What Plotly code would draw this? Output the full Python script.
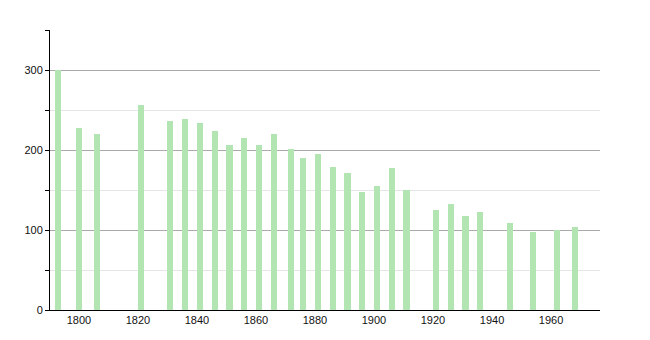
import plotly.graph_objects as go

years = [1793, 1800, 1806, 1821, 1831, 1836, 1841, 1846, 1851, 1856, 1861, 1866,
         1872, 1876, 1881, 1886, 1891, 1896, 1901, 1906, 1911, 1921, 1926, 1931,
         1936, 1946, 1954, 1962, 1968]
population = [300, 228, 220, 256, 236, 239, 234, 224, 206, 215, 206, 220,
              201, 190, 195, 179, 171, 147, 155, 178, 150, 125, 133, 118,
              122, 109, 97, 100, 104]
x_ticks = [1800, 1820, 1840, 1860, 1880, 1900, 1920, 1940, 1960]
y_ticks = [0, 100, 200, 300]

fig = go.Figure()
fig.add_trace(go.Bar(
    x=years, y=population, width=2.1,
    marker=dict(color="#b3e5b3", line=dict(width=0)),
))

fig.update_layout(
    width=650, height=340,
    margin=dict(l=50, r=50, t=30, b=30),
    plot_bgcolor="white", paper_bgcolor="white",
    showlegend=False,
    font=dict(family="Liberation Sans, Arial, sans-serif", size=11, color="#111"),
    xaxis=dict(
        range=[1790.2, 1976.6],
        tickvals=x_ticks,
        showgrid=False,
        showline=True, linecolor="black", linewidth=1,
        ticks="", zeroline=False,
    ),
    yaxis=dict(
        range=[0, 350],
        tickvals=y_ticks,
        showgrid=True, gridcolor="#aaaaaa", gridwidth=1,
        showline=True, linecolor="black", linewidth=1,
        ticks="outside", ticklen=4, tickcolor="black",
        zeroline=False,
        minor=dict(dtick=50, tick0=0, showgrid=True, gridcolor="#e6e6e6",
                   ticks="outside", ticklen=4, tickcolor="black"),
    ),
    bargap=0,
)

fig.write_html("out.html")
